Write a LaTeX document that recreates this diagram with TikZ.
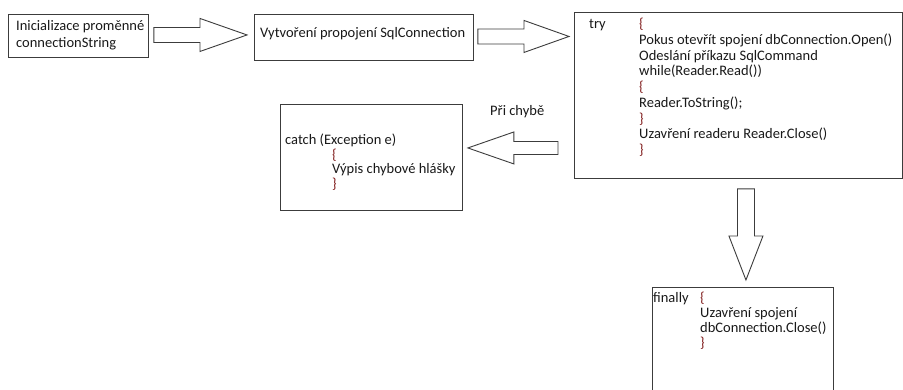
\documentclass[tikz,border=0pt]{standalone}
\usepackage{fontspec}
\setmainfont{Carlito}
\usetikzlibrary{calc}
\definecolor{brc}{RGB}{128,28,28}
\definecolor{ln}{RGB}{60,60,60}
\definecolor{tx}{RGB}{25,25,25}
\newcommand{\br}[1]{\textcolor{brc}{#1}}
\begin{document}
\begin{tikzpicture}[x=1pt,y=-1pt,
  box/.style={draw=ln, line width=0.9pt, rectangle, inner sep=0pt, anchor=north west},
  txt/.style={inner sep=0pt, anchor=base west, text=tx},
  barrow/.style={draw=ln, line width=0.9pt, fill=white, line join=miter}]
\useasboundingbox (0,0) rectangle (903,389);
\clip (0,0) rectangle (903,389);
\fill[white] (0,0) rectangle (903,389);

% boxes
\node[box, minimum width=140pt, minimum height=43pt] (b1) at (8,14) {};
\node[box, minimum width=219pt, minimum height=46pt] (b2) at (254,14) {};
\node[box, minimum width=328pt, minimum height=166pt] (b3) at (574,12) {};
\node[box, minimum width=182pt, minimum height=106pt] (b4) at (280,104) {};
\node[box, minimum width=181pt, minimum height=130pt] (b5) at (652,287) {};

% texts
\node[txt, font=\fontsize{14.5}{17}\selectfont] (t1) at (16,30.5)
  {\begin{tabular}[t]{@{}l@{}}Inicializace proměnné\\ connectionString\end{tabular}};
\node[txt, font=\fontsize{14.5}{15.75}\selectfont] (t2) at (260,37.5)
  {Vytvoření propojení SqlConnection};
\node[txt, font=\fontsize{14.5}{15.75}\selectfont] (t3) at (589,28.5)
  {\begin{tabular}[t]{@{}l@{}l@{}}
  \makebox[50pt][l]{try} & \br{\{}\\
  & Pokus otevřít spojení dbConnection.Open()\\
  & Odeslání příkazu SqlCommand\\
  & while(Reader.Read())\\
  & \br{\{}\\
  & Reader.ToString();\\
  & \br{\}}\\
  & Uzavření readeru Reader.Close()\\
  & \br{\}}
  \end{tabular}};
\node[txt, font=\fontsize{14.5}{14}\selectfont] (t4) at (285,144.5)
  {\begin{tabular}[t]{@{}l@{}l@{}}
  \multicolumn{2}{@{}l@{}}{catch (Exception e)}\\
  \hspace*{47pt} & \br{\{}\\
  & Výpis chybové hlášky\\
  & \br{\}}
  \end{tabular}};
\node[txt, font=\fontsize{14.5}{15}\selectfont] (t5) at (653,302.5)
  {\begin{tabular}[t]{@{}l@{}l@{}}
  \makebox[47pt][l]{finally} & \br{\{}\\
  & Uzavření spojení\\
  & dbConnection.Close()\\
  & \br{\}}
  \end{tabular}};
\node[txt, font=\fontsize{14.5}{15.75}\selectfont] (lbl) at (490,115.5) {Při chybě};

% arrow coordinates
\coordinate (a1s) at ($(b1.east)+(5,-1)$);
\coordinate (a1t) at ($(b2.west)+(-7,-2.5)$);
\coordinate (a2s) at ($(b2.east)+(4,-1)$);
\coordinate (a2t) at ($(b3.west |- a2s)+(-5,0)$);
\coordinate (a3s) at ($(b3.west)+(-16,52.5)$);
\coordinate (a3t) at ($(b4.east |- a3s)+(5,0)$);
\coordinate (a4s) at ($(b3.south)+(7.5,10)$);
\coordinate (a4t) at ($(b5.north -| a4s)+(0,-7)$);

% block arrows
\draw[barrow] ($(a1s)+(0,-7.5)$) -- ($(a1t)+(-47,-7.5)$) -- ($(a1t)+(-47,-16.5)$) -- (a1t)
  -- ($(a1t)+(-47,16.5)$) -- ($(a1t)+(-47,7.5)$) -- ($(a1s)+(0,7.5)$) -- cycle;
\draw[barrow] ($(a2s)+(0,-7.5)$) -- ($(a2t)+(-45,-7.5)$) -- ($(a2t)+(-45,-16)$) -- (a2t)
  -- ($(a2t)+(-45,16)$) -- ($(a2t)+(-45,7.5)$) -- ($(a2s)+(0,7.5)$) -- cycle;
\draw[barrow] ($(a3s)+(0,-6.5)$) -- ($(a3t)+(46,-6.5)$) -- ($(a3t)+(46,-16)$) -- (a3t)
  -- ($(a3t)+(46,16)$) -- ($(a3t)+(46,6.5)$) -- ($(a3s)+(0,6.5)$) -- cycle;
\draw[barrow] ($(a4s)+(-8.5,0)$) -- ($(a4t)+(-8.5,-44)$) -- ($(a4t)+(-17,-44)$) -- (a4t)
  -- ($(a4t)+(17,-44)$) -- ($(a4t)+(8.5,-44)$) -- ($(a4s)+(8.5,0)$) -- cycle;
\end{tikzpicture}
\end{document}
